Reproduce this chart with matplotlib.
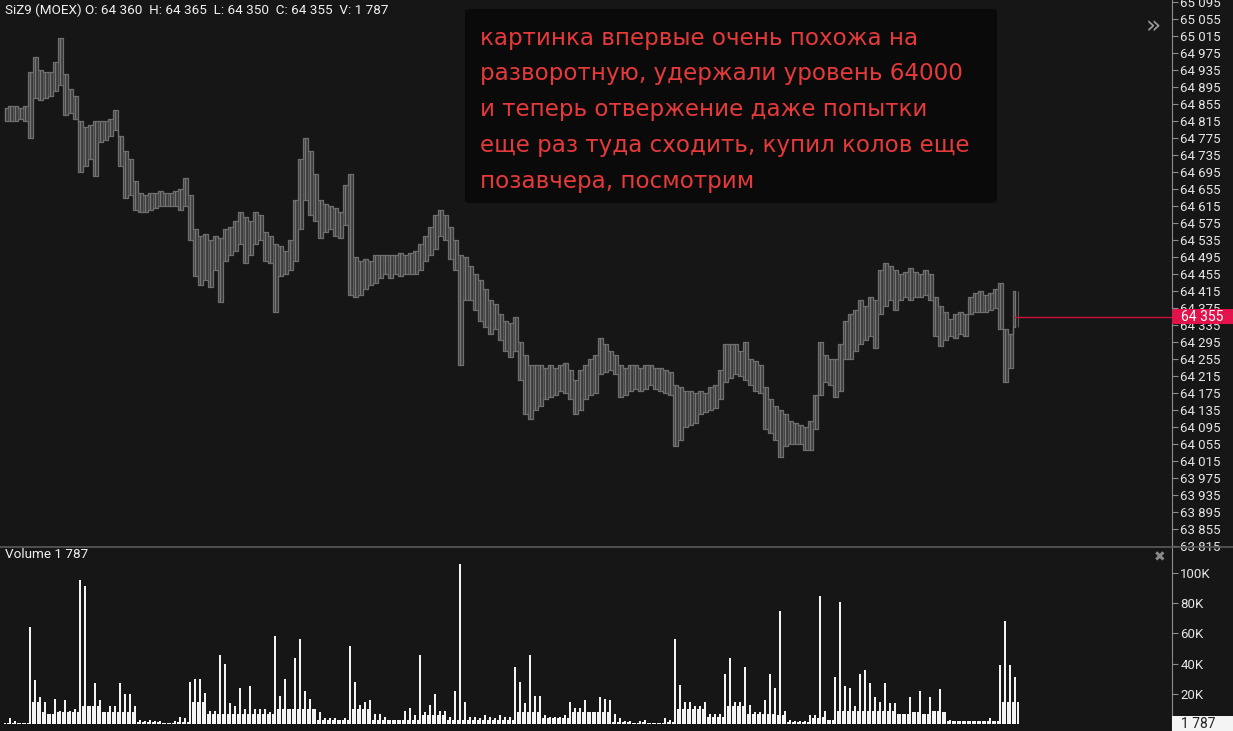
import numpy as np
import matplotlib
matplotlib.use("Agg")
import matplotlib.pyplot as plt
from matplotlib.patches import Rectangle, FancyBboxPatch
from matplotlib.ticker import FuncFormatter
import matplotlib.transforms as mtransforms

# SiZ9 bars, highs / lows (one sample per group of bars)
price_high = [
    64845, 64850, 64850, 64845, 64850,
    64930, 64965, 64935, 64930, 64930, 64955, 65010, 64925, 64890, 64875,
    64815, 64800, 64805, 64815, 64815, 64815, 64820, 64840, 64780, 64745,
    64725, 64675, 64645, 64640, 64645, 64645, 64650, 64645, 64645, 64650,
    64655, 64680, 64640, 64560, 64545, 64550, 64535, 64545, 64540, 64560,
    64565, 64580, 64600, 64590, 64580, 64600, 64595, 64555, 64545, 64525,
    64520, 64510, 64535, 64630, 64725, 64775, 64745, 64690, 64630, 64620,
    64615, 64610, 64600, 64665, 64690, 64495, 64485, 64490, 64485, 64500,
    64500, 64500, 64500, 64500, 64505, 64500, 64505, 64510, 64525, 64545,
    64565, 64595, 64605, 64595, 64565, 64535, 64500, 64495, 64475, 64455,
    64440, 64420, 64395, 64385, 64360, 64345, 64340, 64355, 64295, 64265,
    64240, 64240, 64240, 64235, 64240, 64235, 64240, 64245, 64230, 64205,
    64230, 64240, 64255, 64265, 64305, 64290, 64275, 64265, 64240, 64235,
    64240, 64240, 64235, 64240, 64240, 64235, 64235, 64230, 64225, 64195,
    64190, 64180, 64180, 64175, 64180, 64175, 64190, 64195, 64230, 64290,
    64290, 64290, 64275, 64295, 64255, 64250, 64240, 64190, 64160, 64145,
    64135, 64125, 64110, 64105, 64100, 64095, 64110, 64170, 64295, 64265,
    64255, 64255, 64290, 64345, 64360, 64370, 64395, 64380, 64400, 64395,
    64465, 64480, 64475, 64465, 64455, 64460, 64470, 64460, 64455, 64465,
    64455, 64400, 64380, 64365, 64350, 64360, 64365, 64360, 64400, 64410,
    64415, 64405, 64410, 64420, 64435, 64325, 64315, 64415,
]
price_low = [
    64815, 64815, 64815, 64820, 64815,
    64775, 64870, 64865, 64870, 64875, 64885, 64900, 64830, 64835, 64820,
    64695, 64710, 64725, 64685, 64765, 64770, 64780, 64795, 64710, 64635,
    64640, 64605, 64600, 64600, 64605, 64610, 64615, 64615, 64615, 64615,
    64605, 64615, 64535, 64450, 64430, 64440, 64425, 64465, 64390, 64485,
    64500, 64510, 64525, 64480, 64500, 64525, 64535, 64485, 64480, 64365,
    64450, 64455, 64465, 64485, 64560, 64630, 64595, 64580, 64540, 64555,
    64560, 64545, 64540, 64570, 64405, 64400, 64405, 64420, 64430, 64435,
    64445, 64455, 64445, 64455, 64450, 64455, 64455, 64455, 64465, 64485,
    64500, 64515, 64545, 64535, 64490, 64465, 64240, 64395, 64395, 64370,
    64345, 64330, 64315, 64325, 64300, 64275, 64260, 64275, 64205, 64125,
    64115, 64135, 64145, 64160, 64165, 64170, 64180, 64175, 64160, 64125,
    64135, 64160, 64170, 64175, 64220, 64225, 64230, 64220, 64165, 64170,
    64180, 64185, 64180, 64185, 64195, 64185, 64180, 64175, 64170, 64050,
    64065, 64095, 64100, 64105, 64125, 64130, 64135, 64140, 64160, 64200,
    64210, 64220, 64215, 64205, 64195, 64180, 64175, 64090, 64080, 64065,
    64025, 64050, 64055, 64055, 64055, 64040, 64040, 64090, 64170, 64200,
    64195, 64165, 64180, 64255, 64255, 64275, 64290, 64300, 64310, 64280,
    64360, 64380, 64395, 64370, 64395, 64400, 64395, 64400, 64400, 64405,
    64395, 64310, 64285, 64300, 64310, 64305, 64315, 64310, 64360, 64365,
    64365, 64365, 64370, 64375, 64325, 64200, 64235, 64330,
]
# volume, thousands of contracts: tallest bar per group
volume_k = [
    1, 4, 2, 1, 1,
    64, 29, 18, 15, 7, 17, 9, 16, 9, 10,
    95, 91, 12, 27, 16, 8, 12, 12, 27, 20,
    20, 12, 3, 2, 3, 2, 2, 1, 1, 2,
    5, 4, 28, 30, 30, 21, 9, 9, 46, 40,
    14, 12, 24, 10, 25, 10, 10, 10, 8, 58,
    19, 30, 10, 44, 56, 22, 17, 10, 8, 4,
    4, 4, 3, 4, 52, 28, 13, 15, 16, 7,
    7, 5, 3, 3, 3, 9, 11, 6, 46, 8,
    13, 20, 9, 9, 5, 22, 106, 15, 5, 5,
    4, 6, 5, 4, 6, 5, 5, 38, 28, 14,
    46, 19, 19, 6, 5, 5, 5, 6, 15, 11,
    11, 16, 8, 8, 18, 17, 16, 7, 4, 2,
    2, 1, 2, 3, 1, 1, 1, 4, 3, 56,
    26, 15, 15, 12, 12, 15, 7, 7, 7, 33,
    44, 15, 15, 38, 13, 8, 8, 16, 33, 24,
    75, 9, 3, 2, 2, 2, 6, 6, 85, 9,
    3, 31, 81, 25, 24, 12, 33, 36, 27, 18,
    15, 27, 14, 14, 7, 7, 18, 8, 22, 7,
    18, 9, 23, 8, 3, 2, 2, 2, 2, 2,
    2, 2, 4, 2, 39, 68, 39, 31,
]
# typical level of the dense low bars in each group
volume_floor_k = ([1] * 5 + [15] * 3 + [8] * 7 + [12] * 5 + [8] * 7 + [1.5] * 10
                  + [15] * 4 + [7] * 13 + [10] * 9 + [3] * 6 + [10] * 5 + [3] * 9
                  + [6] * 6 + [3] * 13 + [8] * 6 + [4] * 5 + [8] * 9 + [1.5] * 12
                  + [10] * 7 + [5] * 3 + [12] * 5 + [7] * 6 + [6] * 2 + [1.5] * 4
                  + [4] * 2 + [5] * 3 + [9] * 23 + [2] * 10 + [15] * 4)
last_close = 64355
last_volume = 1787
price_ticks = list(range(65095, 63800, -40))
volume_ticks = [20, 40, 60, 80, 100]

note_lines = [
    "картинка впервые очень похожа на",
    "разворотную, удержали уровень 64000",
    "и теперь отвержение даже попытки",
    "еще раз туда сходить, купил колов еще",
    "позавчера, посмотрим",
]
header = "SiZ9 (MOEX) O: 64 360  H: 64 365  L: 64 350  C: 64 355  V: 1 787"

BG = "#161616"
W, H = 1233, 731
fig = plt.figure(figsize=(W / 100, H / 100), dpi=100, facecolor=BG)

def spaced(v, pos=None):
    return "{:,}".format(int(v)).replace(",", " ")

ax = fig.add_axes([0, 1 - 546 / H, 1172 / W, 546 / H], facecolor=BG)
axv = fig.add_axes([0, 0, 1172 / W, 184 / H], facecolor=BG)

idx = np.arange(len(price_high))
hi = np.array(price_high)
lo = np.array(price_low)
ax.fill_between(idx, lo, hi, step="mid", color="#3a3a3a", lw=0)
ax.vlines(idx, lo, hi, color="#777777", linewidth=1.0)
ax.vlines(idx + 0.5, np.maximum(lo, np.append(lo[1:], lo[-1])),
          np.minimum(hi, np.append(hi[1:], hi[-1])),
          color="#5c5c5c", linewidth=0.8)
ax.plot(idx, hi, drawstyle="steps-mid", color="#6e6e6e", lw=0.9)
ax.plot(idx, lo, drawstyle="steps-mid", color="#6e6e6e", lw=0.9)
xr = (-1, 233.4)
ax.set_xlim(*xr)
ax.set_ylim(63817, 65100)
ax.plot([idx[-1], xr[1]], [last_close, last_close], color="#c8103a", lw=1.0)

vol = np.array(volume_k, dtype=float)
floor = np.minimum(np.array(volume_floor_k), vol)
axv.bar(idx, vol, width=0.4, color="#f4f4f4", linewidth=0)
axv.bar(idx + 0.5, np.minimum(floor, np.append(floor[1:], floor[-1])),
        width=0.4, color="#f4f4f4", linewidth=0)
axv.set_xlim(*xr)
axv.set_ylim(-4.4, 117)

for a, ticks in ((ax, price_ticks), (axv, volume_ticks)):
    for s in ("top", "left", "bottom"):
        a.spines[s].set_visible(False)
    a.spines["right"].set_color("#8c8c8c")
    a.set_xticks([])
    a.yaxis.tick_right()
    a.set_yticks(ticks)
    a.tick_params(axis="y", colors="#8c8c8c", labelcolor="#e6e6e6",
                  length=4, width=0.8, pad=2, labelsize=9.5)
ax.yaxis.set_major_formatter(FuncFormatter(spaced))
axv.yaxis.set_major_formatter(FuncFormatter(lambda v, p: "%dK" % v))
for t in ax.get_yticklabels() + axv.get_yticklabels():
    t.set_fontfamily("Roboto")

# last price tag and last volume tag
bt = mtransforms.blended_transform_factory(ax.transAxes, ax.transData)
ax.add_patch(Rectangle((1.0, last_close - 17.5), 0.06, 35, transform=bt,
                       facecolor="#e2134b", edgecolor="none", clip_on=False, zorder=5))
ax.text(1.008, last_close, spaced(last_close), transform=bt, va="center", ha="left",
        color="white", fontsize=10, family="Roboto", zorder=6, clip_on=False)
bv = mtransforms.blended_transform_factory(axv.transAxes, axv.transData)
axv.add_patch(Rectangle((1.0, -4.4), 0.06, 9.9, transform=bv,
                        facecolor="#f4f4f4", edgecolor="none", clip_on=False, zorder=5))
axv.text(1.008, 0.5, spaced(last_volume), transform=bv, va="center", ha="left",
         color="#222222", fontsize=10, family="Roboto", zorder=6, clip_on=False)

# panel separator
fig.add_artist(plt.Line2D([0, 1], [1 - 546.5 / H] * 2, color="#5a5a5a", lw=1.2))

fig.text(5 / W, 1 - 10 / H, header, color="#f0f0f0", fontsize=9.7,
         family="Roboto", va="center", ha="left")
fig.text(5 / W, 1 - 555 / H, "Volume %s" % spaced(last_volume), color="#f0f0f0",
         fontsize=9.7, family="Roboto", va="center", ha="left")
fig.text(1153 / W, 1 - 27 / H, "»", color="#9a9a9a", fontsize=18,
         va="center", ha="center")
fig.text(1160 / W, 1 - 557 / H, "✖", color="#8a8a8a", fontsize=10,
         va="center", ha="center")

# comment box
fig.add_artist(FancyBboxPatch((465 / W, 1 - 203 / H), 532 / W, 194 / H,
                              boxstyle="round,pad=0,rounding_size=0.004",
                              transform=fig.transFigure, facecolor="#0a0a0a",
                              edgecolor="none"))
for k, line in enumerate(note_lines):
    fig.text(480 / W, 1 - (38 + 35.8 * k) / H, line, color="#e5393a",
             fontsize=16.6, va="center", ha="left")

fig.savefig("out.png", dpi=100, facecolor=BG)
